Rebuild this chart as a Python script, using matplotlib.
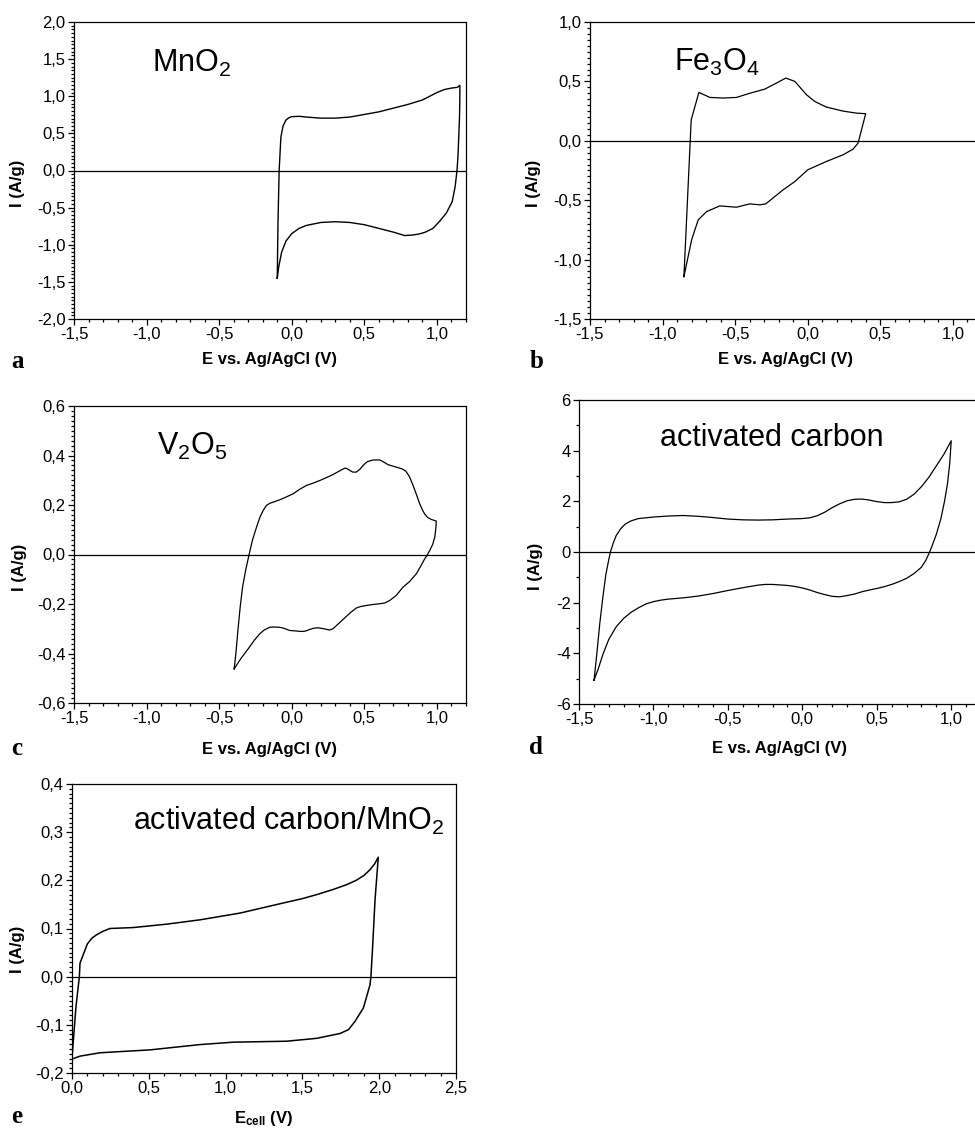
import matplotlib
matplotlib.use("Agg")
import matplotlib.pyplot as plt
from matplotlib.ticker import MultipleLocator, FuncFormatter

plt.rcParams['font.family'] = ['Liberation Sans', 'DejaVu Sans']
plt.rcParams['mathtext.fontset'] = 'custom'
plt.rcParams['mathtext.rm'] = 'Liberation Sans'
plt.rcParams['mathtext.it'] = 'Liberation Sans:italic'
plt.rcParams['mathtext.bf'] = 'Liberation Sans:bold'

# ---------------- data ----------------
# (a) MnO2
a_E = [-0.10, -0.095, -0.087, -0.075, -0.06, -0.04, -0.02, 0.0, 0.05, 0.10, 0.20, 0.30, 0.40,
       0.50, 0.60, 0.70, 0.80, 0.90, 1.00, 1.05, 1.10, 1.14, 1.158,
       1.157, 1.155, 1.15, 1.145, 1.138, 1.125, 1.105, 1.064, 1.02, 0.972, 0.92, 0.88, 0.83,
       0.777, 0.70, 0.60, 0.50, 0.40, 0.30, 0.20, 0.10, 0.05, 0.0, -0.04, -0.07, -0.09, -0.10]
a_I = [-1.45, -0.70, 0.0, 0.45, 0.60, 0.68, 0.71, 0.725, 0.73, 0.72, 0.705, 0.705, 0.72,
       0.755, 0.79, 0.84, 0.89, 0.95, 1.05, 1.09, 1.11, 1.12, 1.146,
       0.90, 0.70, 0.45, 0.20, 0.0, -0.22, -0.42, -0.575, -0.68, -0.78, -0.83, -0.854, -0.87,
       -0.876, -0.83, -0.78, -0.73, -0.70, -0.69, -0.70, -0.74, -0.78, -0.85, -0.95, -1.10,
       -1.30, -1.45]

# (b) Fe3O4
b_E = [-0.853, -0.803, -0.75, -0.674, -0.583, -0.491, -0.40, -0.296, -0.216, -0.151, -0.089,
       -0.009, 0.048, 0.128, 0.243, 0.335, 0.399, 0.346, 0.312, 0.243, 0.128, 0.0, -0.089,
       -0.17, -0.227, -0.289, -0.33, -0.40, -0.491, -0.606, -0.697, -0.755, -0.80, -0.853]
b_I = [-1.143, 0.177, 0.407, 0.365, 0.36, 0.365, 0.40, 0.435, 0.486, 0.528, 0.50,
       0.388, 0.331, 0.284, 0.25, 0.233, 0.228, -0.02, -0.07, -0.118, -0.174, -0.244, -0.343,
       -0.413, -0.469, -0.531, -0.539, -0.531, -0.559, -0.548, -0.596, -0.666, -0.834, -1.143]

# (c) V2O5
c_E = [-0.397, -0.385, -0.37, -0.355, -0.339, -0.32, -0.294, -0.27, -0.243, -0.22, -0.197,
       -0.175, -0.151, -0.12, -0.083, -0.04, 0.009, 0.05, 0.101, 0.15, 0.193, 0.24, 0.284,
       0.33, 0.365, 0.38, 0.399, 0.42, 0.445, 0.47, 0.491, 0.52, 0.56, 0.606, 0.635, 0.663,
       0.72, 0.76, 0.785, 0.81, 0.835, 0.86, 0.881, 0.90, 0.915, 0.935, 0.96, 0.995,
       0.993, 0.985, 0.97, 0.95, 0.93, 0.915, 0.89, 0.858, 0.81, 0.766, 0.72, 0.674, 0.64,
       0.606, 0.56, 0.514, 0.475, 0.445, 0.41, 0.376, 0.33, 0.284, 0.26, 0.22, 0.181, 0.15,
       0.124, 0.09, 0.067, 0.03, -0.014, -0.05, -0.083, -0.12, -0.151, -0.19, -0.22, -0.26,
       -0.30, -0.35, -0.397]
c_I = [-0.462, -0.40, -0.30, -0.21, -0.132, -0.07, 0.0, 0.06, 0.11, 0.15, 0.178,
       0.198, 0.207, 0.213, 0.221, 0.232, 0.245, 0.262, 0.279, 0.289, 0.299, 0.311, 0.323,
       0.338, 0.349, 0.347, 0.340, 0.333, 0.333, 0.345, 0.36, 0.375, 0.382, 0.382, 0.373, 0.363,
       0.353, 0.346, 0.337, 0.315, 0.28, 0.24, 0.205, 0.18, 0.164, 0.15, 0.142, 0.135,
       0.11, 0.07, 0.04, 0.016, -0.005, -0.018, -0.045, -0.078, -0.11, -0.132, -0.165, -0.186,
       -0.196, -0.199, -0.202, -0.206, -0.21, -0.216, -0.232, -0.25, -0.275, -0.30, -0.305,
       -0.30, -0.296, -0.298, -0.303, -0.31, -0.311, -0.309, -0.307, -0.299, -0.294, -0.293,
       -0.294, -0.305, -0.32, -0.348, -0.381, -0.42, -0.462]

# (d) activated carbon
d_E = [-1.399, -1.38, -1.36, -1.34, -1.32, -1.30, -1.289, -1.27, -1.25, -1.22, -1.19, -1.15,
       -1.10, -1.0, -0.9, -0.8, -0.7, -0.6, -0.5, -0.4, -0.3, -0.2, -0.1, 0.0, 0.05, 0.1,
       0.15, 0.2, 0.25, 0.3, 0.35, 0.4, 0.45, 0.5, 0.55, 0.6, 0.65, 0.7, 0.75, 0.8, 0.85,
       0.9, 0.95, 1.0,
       0.99, 0.975, 0.955, 0.93, 0.9, 0.875, 0.855, 0.83, 0.8, 0.75, 0.7, 0.65, 0.6, 0.55,
       0.5, 0.45, 0.4, 0.35, 0.3, 0.25, 0.2, 0.15, 0.1, 0.05, 0.0, -0.05, -0.1, -0.2, -0.25,
       -0.3, -0.4, -0.5, -0.6, -0.7, -0.8, -0.9, -0.95, -1.0, -1.05, -1.1, -1.15, -1.2,
       -1.25, -1.3, -1.34, -1.37, -1.399]
d_I = [-5.06, -4.0, -2.8, -1.8, -0.9, -0.3, 0.0, 0.35, 0.65, 0.92, 1.10, 1.23,
       1.32, 1.38, 1.42, 1.44, 1.41, 1.36, 1.30, 1.27, 1.26, 1.27, 1.30, 1.32, 1.35, 1.43,
       1.57, 1.75, 1.90, 2.02, 2.08, 2.09, 2.05, 1.99, 1.95, 1.95, 1.98, 2.08, 2.28, 2.58, 2.95,
       3.40, 3.85, 4.39,
       3.5, 2.7, 2.0, 1.3, 0.7, 0.3, 0.0, -0.32, -0.6, -0.85, -1.04, -1.17, -1.28, -1.37,
       -1.44, -1.50, -1.57, -1.66, -1.72, -1.77, -1.75, -1.68, -1.60, -1.50, -1.42, -1.36,
       -1.32, -1.28, -1.28, -1.31, -1.41, -1.52, -1.64, -1.74, -1.81, -1.86, -1.90, -1.96,
       -2.05, -2.20, -2.38, -2.62, -2.95, -3.45, -4.05, -4.6, -5.06]

# (e) activated carbon / MnO2 cell
e_E = [0.0, 0.026, 0.048, 0.052, 0.10, 0.13, 0.16, 0.20, 0.247, 0.40, 0.616, 0.833, 1.094,
       1.376, 1.50, 1.60, 1.70, 1.788, 1.85, 1.90, 1.94, 1.97, 1.994,
       1.973, 1.955, 1.946, 1.94, 1.897, 1.842, 1.80, 1.745, 1.593, 1.398, 1.05, 0.833, 0.508,
       0.182, 0.052, 0.0]
e_I = [-0.169, -0.062, 0.0, 0.028, 0.068, 0.080, 0.087, 0.094, 0.100, 0.102, 0.109, 0.118,
       0.132, 0.153, 0.162, 0.171, 0.181, 0.191, 0.200, 0.210, 0.222, 0.234, 0.248,
       0.16, 0.049, 0.0, -0.017, -0.065, -0.093, -0.11, -0.118, -0.128, -0.134, -0.136, -0.141,
       -0.152, -0.158, -0.165, -0.171]

labels = ["MnO$_\\mathrm{2}$", "Fe$_\\mathrm{3}$O$_\\mathrm{4}$", "V$_\\mathrm{2}$O$_\\mathrm{5}$",
          "activated carbon", "activated carbon/MnO$_\\mathrm{2}$"]
letters = ["a", "b", "c", "d", "e"]
xlabel_ref = "E vs. Ag/AgCl (V)"
xlabel_cell = "E$_\\mathbf{cell}$ (V)"
ylabel = "I (A/g)"

# ---------------- figure ----------------
W, H = 975, 1130
fig = plt.figure(figsize=(W / 100, H / 100), dpi=100)


def box(l, t, r, b):
    return [l / W, 1 - b / H, (r - l) / W, (b - t) / H]


def comma(dec):
    def f(v, p):
        v = round(v, 6) + 0.0
        s = f"{v:.{dec}f}"
        return s.replace('.', ',')
    return FuncFormatter(f)


panels = [
    dict(pos=box(74, 22, 466, 319), E=a_E, I=a_I, xlim=(-1.5, 1.2), ylim=(-2, 2),
         ymaj=0.5, ymin=0.05, ydec=1, xmaj=0.5, xmin=0.1, xdec=1,
         txt=(0.199, 0.832), xl=xlabel_ref, xly=-0.138, yl=(-0.145, 0.455),
         let=(17, 368), lw=1.0),
    dict(pos=box(590, 22, 982, 319), E=b_E, I=b_I, xlim=(-1.5, 1.2), ylim=(-1.5, 1.0),
         ymaj=0.5, ymin=0.05, ydec=1, xmaj=0.5, xmin=0.1, xdec=1,
         txt=(0.214, 0.835), xl=xlabel_ref, xly=-0.138, yl=(-0.143, 0.458),
         let=(537, 368), lw=0.9),
    dict(pos=box(74, 406, 466, 703), E=c_E, I=c_I, xlim=(-1.5, 1.2), ylim=(-0.6, 0.6),
         ymaj=0.2, ymin=0.02, ydec=1, xmaj=0.5, xmin=0.1, xdec=1,
         txt=(0.212, 0.834), xl=xlabel_ref, xly=-0.156, yl=(-0.14, 0.455),
         let=(17, 755), lw=0.9),
    dict(pos=box(579, 400, 981, 704), E=d_E, I=d_I, xlim=(-1.5, 1.2), ylim=(-6, 6),
         ymaj=2, ymin=1, ydec=0, xmaj=0.5, xmin=0.1, xdec=1,
         txt=(0.2015, 0.849), xl=xlabel_ref, xly=-0.145, yl=(-0.107, 0.454),
         let=(536, 754), lw=0.9),
    dict(pos=box(72, 784, 456, 1073), E=e_E, I=e_I, xlim=(0, 2.5), ylim=(-0.2, 0.4),
         ymaj=0.1, ymin=0.01, ydec=1, xmaj=0.5, xmin=0.1, xdec=1,
         txt=(0.159, 0.841), xl=xlabel_cell, xly=-0.159, yl=(-0.143, 0.429),
         let=(17, 1123), lw=1.1),
]

for i, p in enumerate(panels):
    ax = fig.add_axes(p['pos'])
    ax.plot(p['E'], p['I'], color='black', lw=p['lw'])
    ax.axhline(0, color='black', lw=0.9)
    ax.set_xlim(*p['xlim'])
    ax.set_ylim(*p['ylim'])
    ax.xaxis.set_major_locator(MultipleLocator(p['xmaj']))
    ax.xaxis.set_minor_locator(MultipleLocator(p['xmin']))
    ax.yaxis.set_major_locator(MultipleLocator(p['ymaj']))
    ax.yaxis.set_minor_locator(MultipleLocator(p['ymin']))
    ax.xaxis.set_major_formatter(comma(p['xdec']))
    ax.yaxis.set_major_formatter(comma(p['ydec']))
    ax.tick_params(which='both', direction='out', top=False, right=False,
                   width=0.9, labelsize=12, pad=2)
    ax.tick_params(which='major', length=4)
    ax.tick_params(which='minor', length=2.5)
    for s in ax.spines.values():
        s.set_linewidth(0.9)
    ax.text(p['txt'][0], p['txt'][1], labels[i], transform=ax.transAxes,
            fontsize=22, ha='left', va='baseline')
    ax.text(0.5, p['xly'], p['xl'], transform=ax.transAxes, fontsize=12,
            fontweight='bold', ha='center', va='center')
    ax.text(p['yl'][0], p['yl'][1], ylabel, transform=ax.transAxes, fontsize=12,
            fontweight='bold', ha='center', va='center', rotation=90)
    fig.text(p['let'][0] / W, 1 - p['let'][1] / H, letters[i], fontsize=18,
             fontweight='bold', family='Liberation Serif', ha='center', va='baseline')

fig.savefig("out.png", dpi=100)
